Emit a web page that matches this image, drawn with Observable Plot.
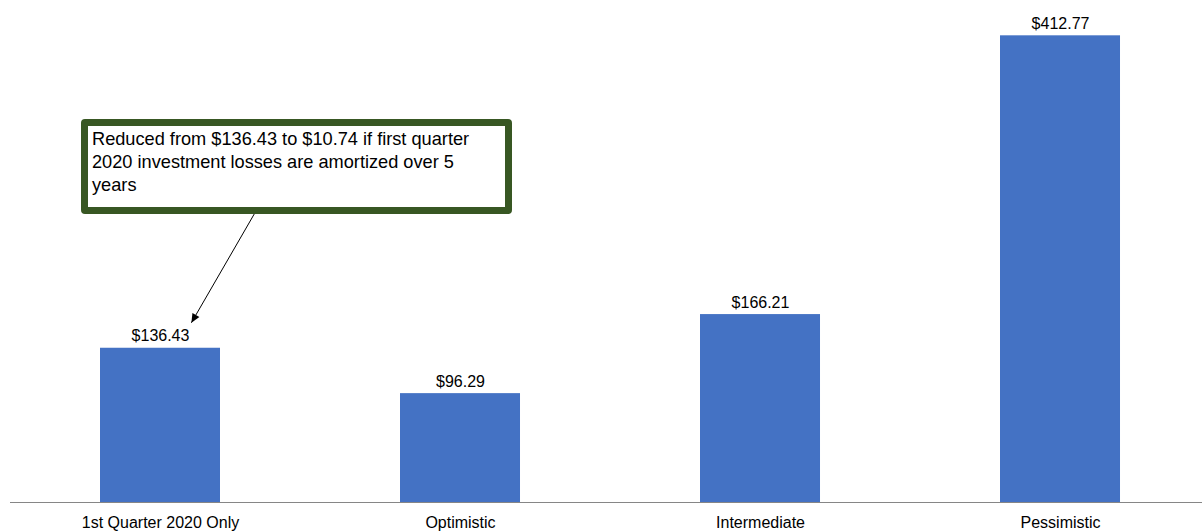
<!DOCTYPE html>
<html>
<head>
<meta charset="utf-8">
<script src="https://cdn.jsdelivr.net/npm/d3@7"></script>
<script src="https://cdn.jsdelivr.net/npm/@observablehq/plot@0.6"></script>
<style>
  html, body { margin: 0; padding: 0; background: #fff; }
  #wrap { position: relative; width: 1202px; height: 532px; font-family: "Liberation Sans", Arial, sans-serif; }
  #callout {
    position: absolute; left: 81px; top: 119px; width: 431px; height: 95px;
    box-sizing: border-box; border: 7px solid #385723; border-radius: 4px; background: #fff;
    font-size: 18.2px; line-height: 23px; color: #000; padding: 2px 14px 0 4px;
  }
</style>
</head>
<body>
<div id="wrap"></div>
<script>
const categories = ["1st Quarter 2020 Only", "Optimistic", "Intermediate", "Pessimistic"];
const values = [136.43, 96.29, 166.21, 412.77];
const labels = ["$136.43", "$96.29", "$166.21", "$412.77"];
const calloutText = "Reduced from $136.43 to $10.74 if first quarter 2020 investment losses are amortized over 5 years";
// arrow from callout to first bar label, in data units (category index, value)
const arrowFrom = {x: 0.323, y: 260};
const arrowTo = {x: 0.103, y: 159};

const data = categories.map((c, i) => ({i, category: c, value: values[i], label: labels[i]}));

const plot = Plot.plot({
  width: 1202,
  height: 532,
  marginLeft: 10,
  marginRight: 0,
  marginTop: 0,
  marginBottom: 30,
  style: {fontFamily: "'Liberation Sans', Arial, sans-serif", fontSize: "16px", color: "#000", background: "#fff"},
  x: {type: "linear", domain: [-0.5, 3.4733], axis: null},
  y: {domain: [0, 444], axis: null},
  marks: [
    Plot.rectY(data, {x1: d => d.i - 0.2, x2: d => d.i + 0.2, y1: 0, y2: "value", fill: "#4472C4"}),
    Plot.ruleY([0], {stroke: "#868686", strokeWidth: 1.2}),
    Plot.axisX({ticks: [0, 1, 2, 3], tickFormat: i => categories[i], tickSize: 0, tickPadding: 14, fontSize: 16, fill: "#000", label: null}),
    Plot.text(data, {x: "i", y: "value", text: "label", lineAnchor: "bottom", dy: -7, fontSize: 16, fill: "#000"}),
    Plot.link([0], {x1: () => arrowFrom.x, y1: () => arrowFrom.y, x2: () => arrowTo.x, y2: () => arrowTo.y, stroke: "#000", strokeWidth: 1, markerEnd: "arrow"})
  ]
});

// filled arrowhead
d3.select(plot).selectAll("marker")
  .attr("viewBox", "-10 -5 10 10")
  .attr("markerWidth", 10).attr("markerHeight", 10)
  .attr("overflow", "visible")
  .selectAll("path")
  .attr("d", "M-9,-4L0,0L-9,4Z").attr("fill", "#000").attr("stroke", "none");

const wrap = document.getElementById("wrap");
wrap.appendChild(plot);
const box = document.createElement("div");
box.id = "callout";
box.textContent = calloutText;
wrap.appendChild(box);
</script>
</body>
</html>
